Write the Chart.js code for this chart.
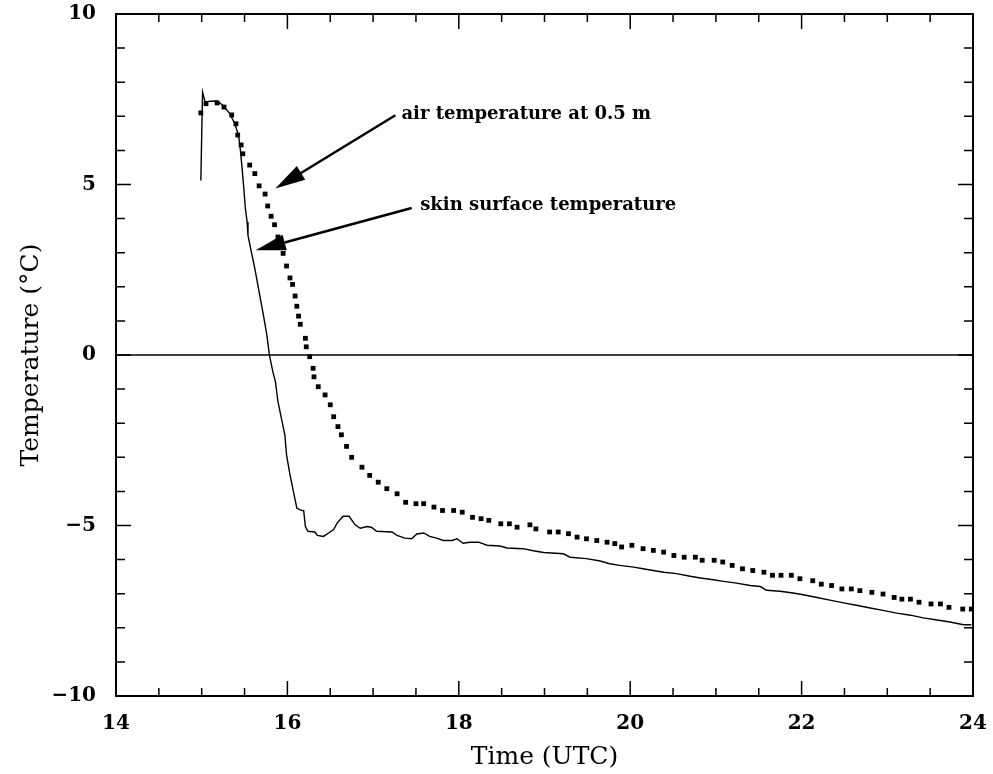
<!DOCTYPE html>
<html>
<head>
<meta charset="utf-8">
<script src="https://cdn.jsdelivr.net/npm/chart.js@4.4.1/dist/chart.umd.min.js"></script>
<style>
  html, body { margin: 0; padding: 0; background: #fff; }
  #wrap { width: 993px; height: 774px; }
</style>
</head>
<body>
<div id="wrap"><canvas id="tempChart" width="993" height="774"></canvas></div>
<script>
// Air temperature at 0.5 m (dotted series), time in hours UTC
const airTime = [
  14.99, 15.05, 15.18, 15.26, 15.35, 15.40, 15.42, 15.46, 15.48, 15.56,
  15.62, 15.67, 15.74, 15.77, 15.81, 15.85, 15.89, 15.95, 15.99, 16.03,
  16.06, 16.09, 16.11, 16.13, 16.15, 16.21, 16.22, 16.26, 16.30, 16.31,
  16.36, 16.44, 16.50, 16.54, 16.59, 16.63, 16.69, 16.75, 16.87, 16.96,
  17.06, 17.16, 17.28, 17.38, 17.50, 17.59, 17.71, 17.81, 17.94, 18.04,
  18.16, 18.26, 18.35, 18.49, 18.59, 18.68, 18.83, 18.90, 19.06, 19.16,
  19.28, 19.38, 19.49, 19.61, 19.73, 19.82, 19.90, 20.02, 20.15, 20.27,
  20.39, 20.51, 20.63, 20.76, 20.84, 20.98, 21.08, 21.19, 21.31, 21.43,
  21.56, 21.66, 21.76, 21.88, 21.98, 22.13, 22.23, 22.35, 22.47, 22.58,
  22.68, 22.82, 22.95, 23.08, 23.17, 23.27, 23.37, 23.51, 23.62, 23.72,
  23.88, 23.98
];
const airTemp = [
  7.10, 7.37, 7.39, 7.27, 7.04, 6.78, 6.45, 6.16, 5.90, 5.57,
  5.32, 4.96, 4.72, 4.37, 4.07, 3.82, 3.46, 2.98, 2.61, 2.26,
  2.07, 1.73, 1.43, 1.14, 0.90, 0.49, 0.24, -0.05, -0.39, -0.64,
  -0.93, -1.17, -1.46, -1.81, -2.10, -2.34, -2.68, -3.00, -3.29, -3.53,
  -3.73, -3.92, -4.07, -4.32, -4.36, -4.36, -4.46, -4.56, -4.56, -4.61,
  -4.76, -4.80, -4.85, -4.95, -4.95, -5.05, -4.98, -5.10, -5.19, -5.19,
  -5.24, -5.34, -5.39, -5.44, -5.49, -5.53, -5.63, -5.58, -5.68, -5.73,
  -5.78, -5.88, -5.93, -5.93, -6.02, -6.02, -6.07, -6.17, -6.27, -6.32,
  -6.37, -6.46, -6.46, -6.46, -6.56, -6.62, -6.72, -6.76, -6.86, -6.86,
  -6.91, -6.96, -7.01, -7.11, -7.16, -7.16, -7.25, -7.30, -7.30, -7.40,
  -7.45, -7.45
];

// Skin surface temperature (solid line)
const skinTime = [
  14.99, 15.00, 15.01, 15.04, 15.10, 15.18, 15.25, 15.33, 15.39, 15.43,
  15.45, 15.47, 15.49, 15.51, 15.53, 15.54, 15.58, 15.62, 15.67, 15.72,
  15.76, 15.79, 15.83, 15.86, 15.89, 15.93, 15.97, 15.99, 16.03, 16.07,
  16.11, 16.15, 16.19, 16.21, 16.24, 16.32, 16.35, 16.42, 16.48, 16.54,
  16.58, 16.65, 16.72, 16.79, 16.85, 16.93, 16.98, 17.04, 17.22, 17.28,
  17.37, 17.45, 17.51, 17.59, 17.66, 17.74, 17.82, 17.92, 17.98, 18.05,
  18.13, 18.23, 18.33, 18.48, 18.56, 18.75, 18.87, 18.99, 19.22, 19.30,
  19.49, 19.65, 19.76, 19.88, 20.04, 20.15, 20.27, 20.39, 20.54, 20.70,
  20.82, 20.97, 21.09, 21.24, 21.40, 21.52, 21.59, 21.75, 21.90, 22.02,
  22.18, 22.33, 22.49, 22.64, 22.80, 22.95, 23.11, 23.27, 23.42, 23.58,
  23.73, 23.89, 23.98
];
const skinTemp = [
  5.12, 6.44, 7.71, 7.42, 7.44, 7.45, 7.32, 7.07, 6.76, 6.44,
  6.05, 5.51, 4.93, 4.29, 3.90, 3.51, 3.02, 2.53, 1.85, 1.17,
  0.59, 0.00, -0.49, -0.78, -1.37, -1.86, -2.34, -2.93, -3.51, -4.00,
  -4.49, -4.54, -4.57, -5.03, -5.17, -5.19, -5.29, -5.32, -5.22, -5.12,
  -4.93, -4.73, -4.73, -4.98, -5.08, -5.03, -5.05, -5.17, -5.19, -5.29,
  -5.37, -5.39, -5.25, -5.22, -5.32, -5.37, -5.44, -5.44, -5.39, -5.52,
  -5.49, -5.49, -5.58, -5.60, -5.66, -5.68, -5.74, -5.79, -5.83, -5.93,
  -5.97, -6.04, -6.12, -6.17, -6.22, -6.27, -6.32, -6.37, -6.41, -6.49,
  -6.54, -6.59, -6.64, -6.69, -6.76, -6.79, -6.90, -6.93, -6.98, -7.03,
  -7.11, -7.19, -7.27, -7.34, -7.42, -7.49, -7.57, -7.63, -7.71, -7.77,
  -7.83, -7.91, -7.91
];

// Zero reference line
const zeroTime = [14, 24];
const zeroTemp = [0, 0];

// Arrow labels (data coordinates)
const noteLabels = ["air temperature at 0.5 m", "skin surface temperature"];
const noteTextAt = [[17.33, 7.07], [17.55, 4.39]];
const noteArrowFrom = [[17.26, 7.03], [17.45, 4.31]];
const noteArrowTo = [[15.86, 4.88], [15.63, 3.07]];

const toPoints = (xs, ys) => xs.map((x, i) => ({ x, y: ys[i] }));

/**
 * Plugin: box frame with inward ticks on all four sides, plus arrow notes
 */
const framePlugin = {
  id: "frame",
  afterDatasetsDraw(chart) {
    const { ctx, chartArea: a, scales: { x, y } } = chart;
    ctx.save();
    ctx.strokeStyle = "#000";
    ctx.lineWidth = 2;
    ctx.strokeRect(a.left, a.top, a.right - a.left, a.bottom - a.top);

    ctx.lineWidth = 1.5;
    ctx.beginPath();
    for (let v = 14; v <= 24; v += 0.5) {
      const px = x.getPixelForValue(v);
      const len = v % 2 === 0 ? 15 : 8;
      ctx.moveTo(px, a.bottom); ctx.lineTo(px, a.bottom - len);
      ctx.moveTo(px, a.top); ctx.lineTo(px, a.top + len);
    }
    for (let v = -10; v <= 10; v++) {
      const py = y.getPixelForValue(v);
      const len = v % 5 === 0 ? 15 : 9;
      ctx.moveTo(a.left, py); ctx.lineTo(a.left + len, py);
      ctx.moveTo(a.right, py); ctx.lineTo(a.right - len, py);
    }
    ctx.stroke();

    // arrows and their labels
    ctx.fillStyle = "#000";
    ctx.font = "bold 18px 'DejaVu Serif'";
    ctx.textAlign = "left";
    ctx.textBaseline = "middle";
    noteLabels.forEach((label, i) => {
      const tx = x.getPixelForValue(noteTextAt[i][0]);
      const ty = y.getPixelForValue(noteTextAt[i][1]);
      ctx.fillText(label, tx, ty);

      const x0 = x.getPixelForValue(noteArrowFrom[i][0]);
      const y0 = y.getPixelForValue(noteArrowFrom[i][1]);
      const x1 = x.getPixelForValue(noteArrowTo[i][0]);
      const y1 = y.getPixelForValue(noteArrowTo[i][1]);
      const ang = Math.atan2(y1 - y0, x1 - x0);
      const headLen = 30, headHalf = 8;
      const bx = x1 - headLen * Math.cos(ang);
      const by = y1 - headLen * Math.sin(ang);

      ctx.lineWidth = 2.5;
      ctx.beginPath();
      ctx.moveTo(x0, y0);
      ctx.lineTo(bx, by);
      ctx.stroke();

      ctx.beginPath();
      ctx.moveTo(x1, y1);
      ctx.lineTo(bx + headHalf * Math.sin(ang), by - headHalf * Math.cos(ang));
      ctx.lineTo(bx - headHalf * Math.sin(ang), by + headHalf * Math.cos(ang));
      ctx.closePath();
      ctx.fill();
    });
    ctx.restore();
  }
};

const tickFont = { family: "'DejaVu Serif'", size: 20, weight: "bold" };
const titleFont = { family: "'DejaVu Serif'", size: 25, weight: "normal" };

new Chart(document.getElementById("tempChart"), {
  type: "scatter",
  data: {
    datasets: [
      {
        label: "zero",
        data: toPoints(zeroTime, zeroTemp),
        showLine: true,
        borderColor: "#000",
        borderWidth: 1.5,
        pointRadius: 0,
      },
      {
        label: "skin surface temperature",
        data: toPoints(skinTime, skinTemp),
        showLine: true,
        borderColor: "#000",
        borderWidth: 1.4,
        pointRadius: 0,
        tension: 0,
      },
      {
        label: "air temperature at 0.5 m",
        data: toPoints(airTime, airTemp),
        showLine: false,
        pointStyle: "rect",
        pointRadius: 3.4,
        pointBorderWidth: 0,
        backgroundColor: "#000",
        borderColor: "#000",
      },
    ],
  },
  options: {
    responsive: false,
    animation: false,
    layout: { padding: { top: 14, right: 20, left: 0, bottom: 0 } },
    plugins: {
      legend: { display: false },
      tooltip: { enabled: false },
    },
    scales: {
      x: {
        type: "linear",
        min: 14,
        max: 24,
        grid: { display: false },
        border: { display: false },
        ticks: { stepSize: 2, font: tickFont, color: "#000", padding: 8, maxRotation: 0 },
        title: { display: true, text: "Time (UTC)", font: titleFont, color: "#000", padding: { top: 0, bottom: 2 } },
        afterFit: (s) => {
          s.height = 78;
          s.paddingLeft = 0;
          s.paddingRight = 0;
        },
      },
      y: {
        min: -10,
        max: 10,
        grid: { display: false },
        border: { display: false },
        ticks: {
          stepSize: 5,
          font: tickFont,
          color: "#000",
          padding: 12,
          callback: (v) => (v < 0 ? "\u2212" + Math.abs(v) : String(v)),
        },
        title: { display: true, text: "Temperature (°C)", font: titleFont, color: "#000", padding: { top: 16, bottom: 0 } },
        afterFit: (s) => {
          s.width = 116;
          s.paddingTop = 0;
          s.paddingBottom = 0;
        },
      },
    },
  },
  plugins: [framePlugin],
});
</script>
</body>
</html>
